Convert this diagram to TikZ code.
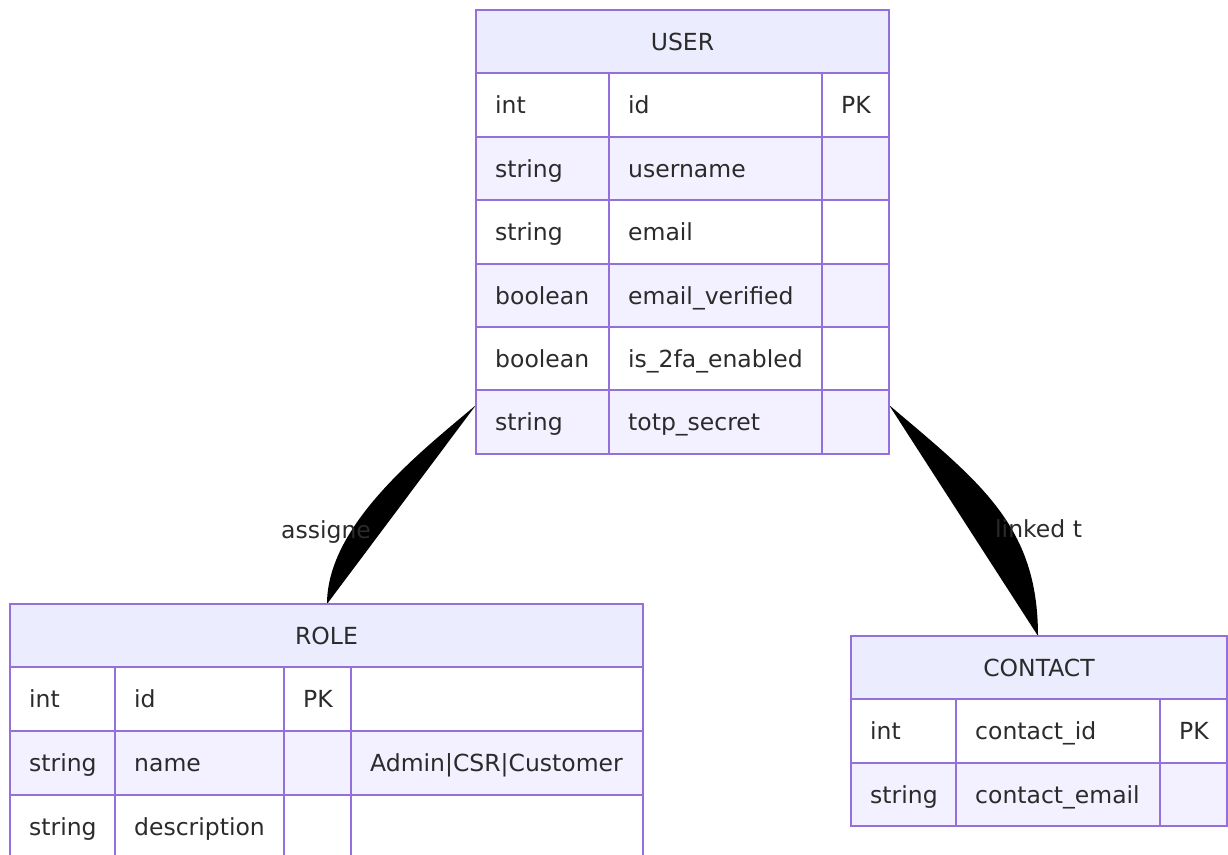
\documentclass[tikz,border=0pt]{standalone}
\usepackage{fontspec}
\setmainfont{DejaVu Sans}
\definecolor{hdr}{HTML}{ECECFF}
\definecolor{alt}{HTML}{F3F0FF}
\definecolor{edgec}{HTML}{9370DB}
\definecolor{txt}{HTML}{2B2B2B}
\begin{document}
\begin{tikzpicture}[x=1pt,y=-1pt,
  cell/.style={draw=edgec,line width=1.8pt},
  lbl/.style={inner sep=0pt,anchor=base west,text=txt,font=\fontsize{23.5}{28}\selectfont},
  ttl/.style={inner sep=0pt,anchor=base,text=txt,font=\fontsize{23.5}{28}\selectfont},
  relshape/.style={fill=black}]
\useasboundingbox (0,0) rectangle (1228,854);

% relationship shapes
\coordinate (ua) at (476,405);
\coordinate (ra) at (327,604);
\coordinate (ub) at (889,405);
\coordinate (ca) at (1038,636);
\fill[relshape] (ua) .. controls (423,450) and (327,524) .. (ra) -- cycle;
\fill[relshape] (ub) .. controls (981,483) and (1038,526) .. (ca) -- cycle;

% USER
\fill[hdr] (476,10) rectangle (889,73);
\node[ttl] (user-title) at (682.5,50) {USER};
\foreach \t/\n/\k/\ya/\yb [count=\i from 0] in {int/id/PK/73/137, string/username/{}/137/200, string/email/{}/200/264, boolean/email\_verified/{}/264/327, boolean/is\_2fa\_enabled/{}/327/390, string/totp\_secret/{}/390/454} {
  \pgfmathsetmacro\yt{(\ya+\yb)/2+8.5}
  \ifodd\i\def\fc{alt}\else\def\fc{white}\fi
  \fill[\fc] (476,\ya) rectangle (889,\yb);
  \node[lbl] (user-t\i) at (495,\yt) {\t};
  \node[lbl] (user-n\i) at (628,\yt) {\n};
  \node[lbl] (user-k\i) at (841,\yt) {\k};
}
\draw[cell] (476,10) rectangle (889,73);
\foreach \ya/\yb in {73/137, 137/200, 200/264, 264/327, 327/390, 390/454} {
  \draw[cell] (476,\ya) rectangle (609,\yb);
  \draw[cell] (609,\ya) rectangle (822,\yb);
  \draw[cell] (822,\ya) rectangle (889,\yb);
}

% ROLE
\fill[hdr] (10,604) rectangle (643,667);
\node[ttl] (role-title) at (326.5,644) {ROLE};
\foreach \t/\n/\k/\c/\ya/\yb [count=\i from 0] in {int/id/PK/{}/667/731, string/name/{}/Admin|CSR|Customer/731/795, string/description/{}/{}/795/858} {
  \pgfmathsetmacro\yt{(\ya+\yb)/2+8.5}
  \ifodd\i\def\fc{alt}\else\def\fc{white}\fi
  \fill[\fc] (10,\ya) rectangle (643,\yb);
  \node[lbl] (role-t\i) at (29,\yt) {\t};
  \node[lbl] (role-n\i) at (134,\yt) {\n};
  \node[lbl] (role-k\i) at (303,\yt) {\k};
  \node[lbl] (role-c\i) at (370,\yt) {\c};
}
\draw[cell] (10,604) rectangle (643,667);
\foreach \ya/\yb in {667/731, 731/795, 795/858} {
  \draw[cell] (10,\ya) rectangle (115,\yb);
  \draw[cell] (115,\ya) rectangle (284,\yb);
  \draw[cell] (284,\ya) rectangle (351,\yb);
  \draw[cell] (351,\ya) rectangle (643,\yb);
}

% CONTACT
\fill[hdr] (851,636) rectangle (1227,699);
\node[ttl] (contact-title) at (1039,676) {CONTACT};
\foreach \t/\n/\k/\ya/\yb [count=\i from 0] in {int/contact\_id/PK/699/763, string/contact\_email/{}/763/826} {
  \pgfmathsetmacro\yt{(\ya+\yb)/2+8.5}
  \ifodd\i\def\fc{alt}\else\def\fc{white}\fi
  \fill[\fc] (851,\ya) rectangle (1227,\yb);
  \node[lbl] (contact-t\i) at (870,\yt) {\t};
  \node[lbl] (contact-n\i) at (975,\yt) {\n};
  \node[lbl] (contact-k\i) at (1179,\yt) {\k};
}
\draw[cell] (851,636) rectangle (1227,699);
\foreach \ya/\yb in {699/763, 763/826} {
  \draw[cell] (851,\ya) rectangle (956,\yb);
  \draw[cell] (956,\ya) rectangle (1160,\yb);
  \draw[cell] (1160,\ya) rectangle (1227,\yb);
}

% clipped relationship labels
\begin{scope}
  \clip (275,500) rectangle (370,560);
  \node[lbl] (lab-assigned) at (281,538) {assigned to};
\end{scope}
\begin{scope}
  \clip (990,500) rectangle (1082,560);
  \node[lbl] (lab-linked) at (995,537) {linked to};
\end{scope}
\end{tikzpicture}
\end{document}
